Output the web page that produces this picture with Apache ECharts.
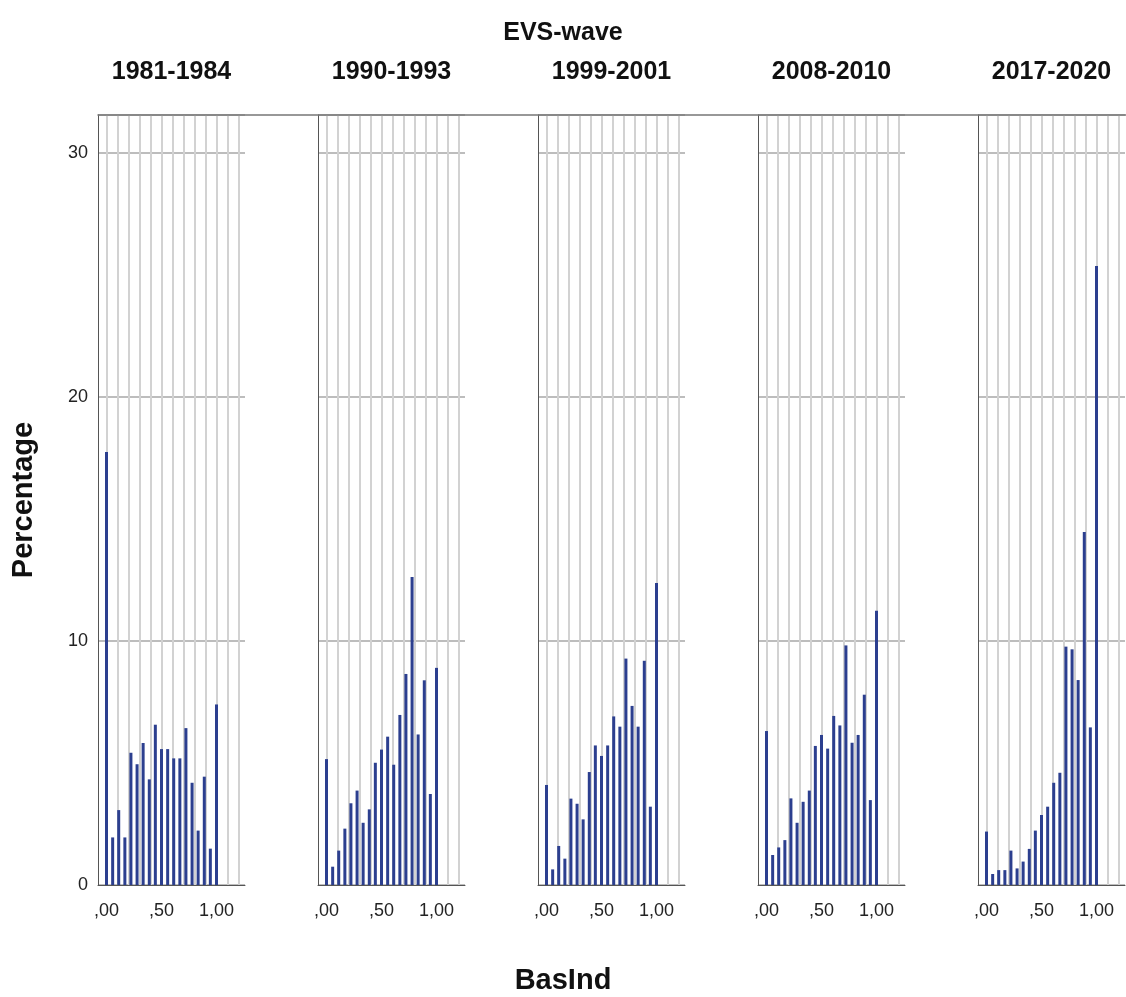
<!DOCTYPE html>
<html>
<head>
<meta charset="utf-8">
<script src="https://cdn.jsdelivr.net/npm/echarts@6/dist/echarts.min.js"></script>
<style>
  html, body { margin: 0; padding: 0; background: #fff; }
  #main { width: 1126px; height: 997px; }
</style>
</head>
<body>
<div id="main"></div>
<script>
// EVS waves (one panel each)
var waves = ['1981-1984', '1990-1993', '1999-2001', '2008-2010', '2017-2020'];
// BasInd values (x)
var basInd = [0, 0.056, 0.111, 0.167, 0.222, 0.278, 0.333, 0.389, 0.444, 0.5,
              0.556, 0.611, 0.667, 0.722, 0.778, 0.833, 0.889, 0.944, 1];
// percentage per BasInd value, per wave
var pct1981 = [17.75, 1.95, 3.07, 1.95, 5.42, 4.95, 5.82, 4.33, 6.57, 5.57, 5.57, 5.19, 5.19, 6.43, 4.19, 2.23, 4.44, 1.49, 7.40];
var pct1990 = [5.16, 0.75, 1.41, 2.31, 3.35, 3.87, 2.55, 3.10, 5.01, 5.55, 6.08, 4.93, 6.97, 8.65, 12.62, 6.17, 8.39, 3.73, 8.90];
var pct1999 = [4.10, 0.64, 1.60, 1.08, 3.54, 3.33, 2.69, 4.63, 5.72, 5.29, 5.72, 6.91, 6.49, 9.28, 7.34, 6.49, 9.19, 3.21, 12.38];
var pct2008 = [6.31, 1.23, 1.54, 1.84, 3.55, 2.55, 3.41, 3.87, 5.70, 6.15, 5.59, 6.93, 6.54, 9.82, 5.83, 6.15, 7.80, 3.48, 11.24];
var pct2017 = [2.19, 0.45, 0.61, 0.61, 1.41, 0.68, 0.96, 1.48, 2.23, 2.87, 3.21, 4.19, 4.60, 9.77, 9.66, 8.40, 14.47, 6.46, 25.37];
var allPct = [pct1981, pct1990, pct1999, pct2008, pct2017];

// tick labels
var yTicks = [0, 10, 20, 30];
var xTickValues = [0, 0.5, 1];
var xTickLabels = [',00', ',50', '1,00'];

var FONT = '"Liberation Sans", Arial, sans-serif';
var yMax = 31.56;

var grids = [], xAxes = [], yAxes = [], series = [], titles = [];

titles.push({
  text: 'EVS-wave', left: 'center', top: 21, padding: 0,
  textStyle: { fontFamily: FONT, fontSize: 25, fontWeight: 'bold', color: '#111' }
});
titles.push({
  text: 'BasInd', left: 'center', top: 966, padding: 0,
  textStyle: { fontFamily: FONT, fontSize: 29, fontWeight: 'bold', color: '#111' }
});

for (var i = 0; i < waves.length; i++) {
  var L = 98 + 220 * i;

  // panel title
  titles.push({
    text: waves[i], left: L + 73.5, top: 60, padding: 0, textAlign: 'center',
    textStyle: { fontFamily: FONT, fontSize: 25, fontWeight: 'bold', color: '#111' }
  });

  // outer frame of the panel: y axis, baseline, horizontal grid
  grids.push({ left: L, top: 115, width: 147, height: 770 });
  xAxes.push({
    type: 'value', gridIndex: 2 * i, min: 0, max: 1,
    axisLine: { show: true, onZero: false, lineStyle: { color: '#555', width: 1 } },
    axisTick: { show: false }, axisLabel: { show: false }, splitLine: { show: false }
  });
  yAxes.push({
    type: 'value', gridIndex: 2 * i, min: 0, max: yMax, interval: 10,
    name: i === 0 ? 'Percentage' : '',
    nameLocation: 'middle', nameRotate: 90, nameGap: 60,
    nameTextStyle: { fontFamily: FONT, fontSize: 29, fontWeight: 'bold', color: '#111' },
    axisLine: { show: true, onZero: false, lineStyle: { color: '#555', width: 1 } },
    axisTick: { show: false },
    axisLabel: {
      show: i === 0, showMaxLabel: false, margin: 10,
      fontFamily: FONT, fontSize: 18, color: '#222',
      formatter: function (v) { return yTicks.indexOf(v) >= 0 ? String(v) : ''; }
    },
    splitLine: { show: true, lineStyle: { color: '#bdbdbd', width: 2 } }
  });

  // inner data grid: BasInd scale from 0 to 1.2
  grids.push({ left: L + 8.5, top: 115, width: 132, height: 770 });
  xAxes.push({
    type: 'value', gridIndex: 2 * i + 1, min: 0, max: 1.2, interval: 0.1,
    axisLine: { show: false }, axisTick: { show: false },
    axisLabel: {
      show: true, margin: 17, fontFamily: FONT, fontSize: 18, color: '#222',
      showMaxLabel: true, showMinLabel: true, hideOverlap: false,
      formatter: function (v) {
        var r = Math.round(v * 100) / 100;
        var k = xTickValues.indexOf(r);
        return k >= 0 ? xTickLabels[k] : '';
      }
    },
    splitLine: { show: true, lineStyle: { color: '#d2d2d2', width: 2 } }
  });
  yAxes.push({ type: 'value', gridIndex: 2 * i + 1, min: 0, max: yMax, show: false });

  series.push({
    type: 'bar', name: waves[i],
    xAxisIndex: 2 * i + 1, yAxisIndex: 2 * i + 1,
    barWidth: 3,
    itemStyle: { color: '#2c3f8f' },
    data: basInd.map(function (x, k) { return [x, allPct[i][k]]; })
  });
}

// top frame line across all panels
grids.push({ left: 98, right: 0, top: 115, height: 770 });
xAxes.push({
  type: 'value', gridIndex: grids.length - 1, position: 'top', min: 0, max: 1,
  axisLine: { show: true, onZero: false, lineStyle: { color: '#777', width: 1.5 } },
  axisTick: { show: false }, axisLabel: { show: false }, splitLine: { show: false }
});
yAxes.push({ type: 'value', gridIndex: grids.length - 1, min: 0, max: 1, show: false });

var chart = echarts.init(document.getElementById('main'));
chart.setOption({
  backgroundColor: '#fff',
  animation: false,
  title: titles,
  grid: grids,
  xAxis: xAxes,
  yAxis: yAxes,
  series: series
});
</script>
</body>
</html>
